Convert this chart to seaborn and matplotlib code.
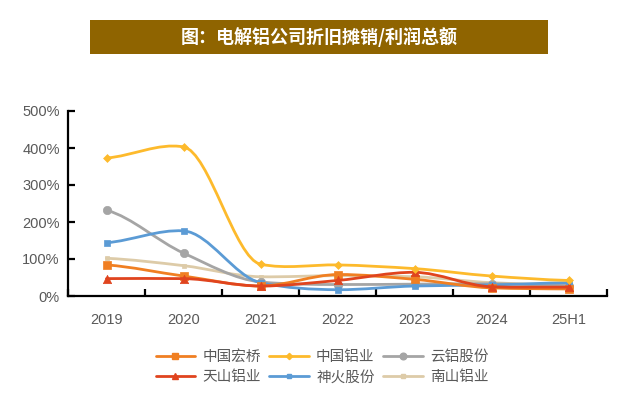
import numpy as np
import pandas as pd
import matplotlib
matplotlib.use("Agg")
import matplotlib.pyplot as plt
from matplotlib.path import Path
from matplotlib.patches import PathPatch, Rectangle
from matplotlib.lines import Line2D
from matplotlib.ticker import FuncFormatter
import seaborn as sns

# ---- data (ratio, 1.0 = 100%) ----
periods = ["2019", "2020", "2021", "2022", "2023", "2024", "25H1"]
hongqiao = [0.84, 0.54, 0.27, 0.58, 0.45, 0.22, 0.19]
chalco = [3.73, 4.03, 0.86, 0.84, 0.74, 0.54, 0.42]
yunlv = [2.32, 1.16, 0.38, 0.31, 0.32, 0.33, 0.28]
tianshan = [0.47, 0.47, 0.27, 0.42, 0.64, 0.25, 0.24]
shenhuo = [1.44, 1.76, 0.36, 0.17, 0.27, 0.30, 0.36]
nanshan = [1.02, 0.82, 0.52, 0.55, 0.52, 0.36, 0.30]

series_names = ["中国宏桥", "中国铝业", "云铝股份", "天山铝业", "神火股份", "南山铝业"]
series_values = [hongqiao, chalco, yunlv, tianshan, shenhuo, nanshan]
colors = ["#F07F22", "#FDBA2C", "#A5A5A5", "#E0441E", "#5B9BD5", "#DDCBA8"]
markers = ["s", "D", "o", "^", "s", "s"]
msizes = [6, 4, 6, 6, 4, 3]

title = "图：电解铝公司折旧摊销/利润总额"

rows = []
for name, vals in zip(series_names, series_values):
    for i, (p, v) in enumerate(zip(periods, vals)):
        rows.append({"series": name, "period": p, "x": i, "value": v})
df = pd.DataFrame(rows)

sns.set_theme(style="white")
plt.rcParams["font.family"] = ["Noto Sans CJK SC", "DejaVu Sans"]

fig = plt.figure(figsize=(6.27, 3.99), dpi=100)
ax = fig.add_axes([68 / 627, 1 - 296 / 399, (607 - 68) / 627, (296 - 111) / 399])

# title banner
fig.patches.append(Rectangle((90 / 627, 1 - 54 / 399), (548 - 90) / 627, 34 / 399,
                             transform=fig.transFigure, facecolor="#8F6400",
                             edgecolor="none", zorder=0))
fig.text(319 / 627, 1 - 37 / 399, title, ha="center", va="center", color="white",
         fontsize=13, fontweight="bold")


def smooth_path(xs, ys):
    """Smoothed display curve through the data points (cubic Bezier segments)."""
    x = np.asarray(xs, float)
    y = np.asarray(ys, float)
    n = len(x)
    h = np.diff(x)
    d = np.diff(y) / h
    # monotone (PCHIP-like) tangents
    mp = np.zeros(n)
    for i in range(1, n - 1):
        if d[i - 1] * d[i] > 0:
            mp[i] = 2 * d[i - 1] * d[i] / (d[i - 1] + d[i])
    mp[0] = d[0] * 0.5
    mp[-1] = d[-1] * 0.5
    # Catmull-Rom tangents
    mc = np.zeros(n)
    mc[1:-1] = (y[2:] - y[:-2]) / (x[2:] - x[:-2])
    mc[0] = d[0] * 0.5
    mc[-1] = d[-1] * 0.5
    m = 0.75 * mp + 0.25 * mc
    verts = [(x[0], y[0])]
    codes = [Path.MOVETO]
    for i in range(n - 1):
        hh = h[i] / 3.0
        verts += [(x[i] + hh, y[i] + m[i] * hh),
                  (x[i + 1] - hh, y[i + 1] - m[i + 1] * hh),
                  (x[i + 1], y[i + 1])]
        codes += [Path.CURVE4] * 3
    return Path(verts, codes)


order_z = {"中国宏桥": 3, "中国铝业": 4, "云铝股份": 2, "天山铝业": 3.5, "神火股份": 2.5, "南山铝业": 1.5}
for name, c, m, ms in zip(series_names, colors, markers, msizes):
    sub = df[df["series"] == name]
    path = smooth_path(sub["x"].values, sub["value"].values)
    ax.add_patch(PathPatch(path, facecolor="none", edgecolor=c, lw=2.0,
                           transform=ax.transData, zorder=order_z[name],
                           capstyle="round", joinstyle="round"))
    sns.scatterplot(data=sub, x="x", y="value", ax=ax, color=c, marker=m,
                    s=ms ** 2, edgecolor=c, linewidth=0.5, zorder=order_z[name] + 0.1,
                    legend=False)

ax.set_xlim(-0.5, 6.5)
ax.set_ylim(0, 5)
ax.set_xticks(np.arange(len(periods)))
ax.set_xticklabels(periods)
ax.set_xticks(np.arange(-0.5, 7, 1), minor=True)
ax.set_yticks(np.arange(0, 5.01, 1))
ax.yaxis.set_major_formatter(FuncFormatter(lambda v, _: f"{v * 100:.0f}%"))
ax.set_xlabel("")
ax.set_ylabel("")

for s in ["top", "right"]:
    ax.spines[s].set_visible(False)
for s in ["left", "bottom"]:
    ax.spines[s].set_visible(True)
    ax.spines[s].set_color("black")
    ax.spines[s].set_linewidth(1.6)

ax.tick_params(axis="y", which="major", direction="in", length=5, width=1.6,
               color="black", labelsize=10.5, labelcolor="#595959", pad=6, left=True)
ax.tick_params(axis="x", which="major", length=0, labelsize=10.5, labelcolor="#595959", pad=12)
ax.tick_params(axis="x", which="minor", direction="in", length=5, width=1.6,
               color="black", bottom=True)
for lbl in ax.get_xticklabels() + ax.get_yticklabels():
    lbl.set_family(["Liberation Sans", "DejaVu Sans"])
ax.grid(False)

handles = []
for name, c, m, ms in zip(series_names, colors, markers, msizes):
    handles.append(Line2D([0], [0], color=c, lw=2.0, marker=m, markersize=ms * 0.8,
                          markerfacecolor=c, markeredgecolor=c, label=name))
ordr = [0, 3, 1, 4, 2, 5]
leg = fig.legend([handles[i] for i in ordr], [series_names[i] for i in ordr],
                 loc="center", bbox_to_anchor=(322 / 627, 1 - 367 / 399), ncol=3,
                 frameon=False, fontsize=10.5, handlelength=2.7, handletextpad=0.5,
                 columnspacing=0.6, labelspacing=0.45)
for t in leg.get_texts():
    t.set_color("#595959")

fig.savefig("out.png", dpi=100)
